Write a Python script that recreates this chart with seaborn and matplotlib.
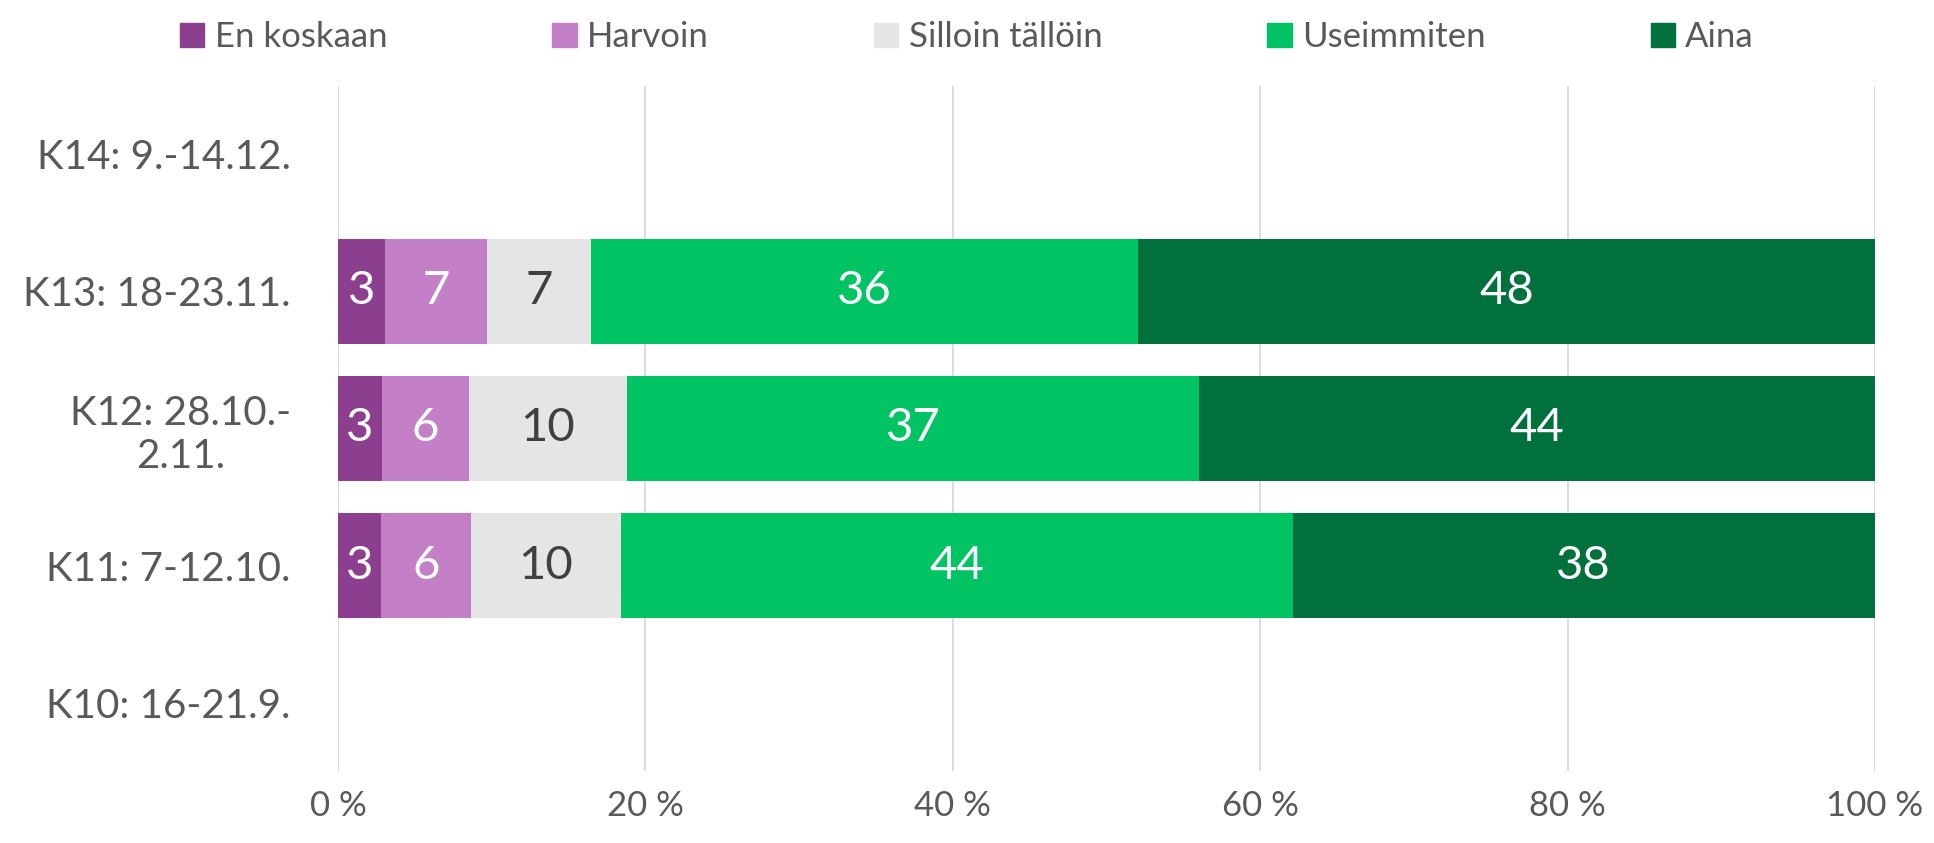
import pandas as pd
import matplotlib
matplotlib.use("Agg")
import matplotlib.pyplot as plt
import seaborn as sns

categories = ["K14: 9.-14.12.", "K13: 18-23.11.", "K12: 28.10.-\n2.11.", "K11: 7-12.10.", "K10: 16-21.9."]
series = ["En koskaan", "Harvoin", "Silloin tällöin", "Useimmiten", "Aina"]
colors = ["#8C3F8E", "#C380C6", "#E5E5E5", "#00C364", "#00703C"]
label_colors = ["white", "white", "#404040", "white", "white"]

# only three weeks have answers
rows = ["K13: 18-23.11.", "K12: 28.10.-\n2.11.", "K11: 7-12.10."]
en_koskaan = [3.06, 2.86, 2.80]
harvoin = [6.64, 5.64, 5.83]
silloin = [6.77, 10.30, 9.78]
useimmiten = [35.60, 37.20, 43.70]
aina = [47.93, 44.00, 37.89]
labels = [[3, 3, 3], [7, 6, 6], [7, 10, 10], [36, 37, 44], [48, 44, 38]]

df = pd.DataFrame({"week": rows, "En koskaan": en_koskaan, "Harvoin": harvoin,
                   "Silloin tällöin": silloin, "Useimmiten": useimmiten, "Aina": aina})
cum = df[series].cumsum(axis=1)
cum["week"] = df["week"]

sns.set_style("white")
plt.rcParams["font.family"] = ["Lato", "DejaVu Sans"]
gray = "#595959"

fig = plt.figure(figsize=(19.34, 8.43), dpi=100)
ax = fig.add_axes([0.1748, 0.0854, 0.7947, 0.8126])

# stacked bars: draw cumulative totals from the largest down
for s, c in reversed(list(zip(series, colors))):
    sns.barplot(data=cum, x=s, y="week", order=categories, color=c, width=0.77,
                saturation=1, ax=ax, orient="h", linewidth=0)

for i, s in enumerate(series):
    left = cum[s] - df[s]
    for j, w in enumerate(rows):
        yy = categories.index(w)
        ax.text(left.iloc[j] + df[s].iloc[j] / 2, yy, str(labels[i][j]),
                ha="center", va="center", fontsize=34, color=label_colors[i])

ax.set_xlim(0, 100)
ax.set_ylim(4.5, -0.5)
ax.set_xticks(range(0, 101, 20))
ax.set_xticklabels([f"{v} %" for v in range(0, 101, 20)])
ax.xaxis.grid(True, color="#D9D9D9", linewidth=1.3)
ax.set_axisbelow(True)
ax.set_xlabel("")
ax.set_ylabel("")
for sp in ax.spines.values():
    sp.set_visible(False)
ax.tick_params(axis="x", labelsize=25, colors=gray, length=0, pad=14)
ax.tick_params(axis="y", labelsize=29, colors=gray, length=0, pad=34)
for t in ax.get_yticklabels():
    t.set_multialignment("center")

handles = [plt.Rectangle((0, 0), 1, 1, color=c) for c in colors]
leg = fig.legend(handles, series, loc="upper center", bbox_to_anchor=(0.5, 1.012), ncol=5,
                 frameon=False, fontsize=25, handlelength=0.7, handleheight=0.7,
                 handletextpad=0.3, columnspacing=4.75)
for t in leg.get_texts():
    t.set_color(gray)

fig.savefig("out.png", dpi=100)
